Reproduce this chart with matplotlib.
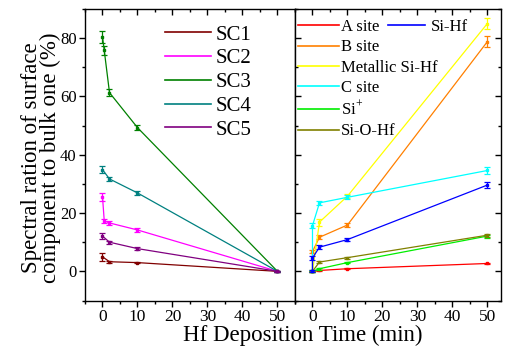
import numpy as np
import matplotlib
matplotlib.use("Agg")
import matplotlib.pyplot as plt
from matplotlib.ticker import MultipleLocator
from matplotlib.lines import Line2D

plt.rcParams['font.family'] = ['Liberation Serif', 'DejaVu Serif']
plt.rcParams['mathtext.fontset'] = 'custom'
plt.rcParams['mathtext.rm'] = 'Liberation Serif'

# ---------------- data ----------------
left_x = [0, 0.5, 2, 10, 50]
sc_labels = ["SC1", "SC2", "SC3", "SC4", "SC5"]
sc1 = [5.0, np.nan, 3.3, 3.0, 0.0]
sc2 = [25.6, 17.3, 16.6, 14.2, 0.0]
sc3 = [80.4, 75.8, 61.3, 49.3, 0.0]
sc4 = [34.9, np.nan, 31.7, 26.9, 0.0]
sc5 = [12.1, np.nan, 10.0, 7.8, 0.0]
sc1_err = [1.3, np.nan, 0.4, 0.3, 0.2]
sc2_err = [1.4, 0.6, 0.6, 0.6, 0.2]
sc3_err = [2.0, 1.6, 1.2, 0.9, 0.2]
sc4_err = [1.2, np.nan, 0.7, 0.6, 0.2]
sc5_err = [0.9, np.nan, 0.5, 0.4, 0.2]
sc_colors = ["#800000", "#FF00FF", "#008000", "#008080", "#800080"]

right_x = [0, 0, 2, 10, 50]
site_labels = ["A site", "B site", "Metallic Si-Hf", "C site", "Si$^{+}$", "Si-O-Hf", "Si-Hf"]
a_site = [0, np.nan, 0.3, 0.9, 2.7]
b_site = [0, 6.8, 11.7, 15.9, 78.8]
metallic = [0, np.nan, 16.9, 25.8, 85.0]
c_site = [0, 15.7, 23.5, 25.4, 34.6]
si_plus = [0, np.nan, 0.9, 3.0, 12.1]
si_o_hf = [0, np.nan, 3.2, 4.7, 12.4]
si_hf = [0, 4.6, 8.3, 10.9, 29.6]
a_err = [0.2, np.nan, 0.2, 0.2, 0.3]
b_err = [0.3, 0.6, 0.6, 0.6, 2.0]
m_err = [0.3, np.nan, 1.2, 0.8, 2.0]
c_err = [0.3, 1.0, 0.6, 0.7, 1.1]
sp_err = [0.2, np.nan, 0.3, 0.3, 0.5]
so_err = [0.2, np.nan, 0.3, 0.3, 0.5]
sh_err = [0.3, 0.7, 0.6, 0.6, 1.1]
site_colors = ["#FF0000", "#FF8000", "#FFFF00", "#00FFFF", "#00EE00", "#808000", "#0000FF"]

fig = plt.figure(figsize=(5.06, 3.47), dpi=100)
axL = fig.add_axes([85/506, 46.5/347, 210/506, 291.5/347])
axR = fig.add_axes([295/506, 46.5/347, 206/506, 291.5/347])


def draw(ax, x, y, e, c, label):
    x = np.asarray(x, float); y = np.asarray(y, float); e = np.asarray(e, float)
    m = ~np.isnan(y)
    ax.plot(x[m], y[m], color=c, lw=0.9, marker='s', ms=1.6)
    ax.errorbar(x[m], y[m], yerr=e[m], fmt='none', ecolor=c, elinewidth=0.9,
                capsize=2.2, capthick=0.9)
    return Line2D([], [], color=c, lw=1.2, label=label)


left_series = [sc1, sc2, sc3, sc4, sc5]
left_errs = [sc1_err, sc2_err, sc3_err, sc4_err, sc5_err]
hL = [draw(axL, left_x, s, e, c, l) for s, e, c, l in zip(left_series, left_errs, sc_colors, sc_labels)]

right_series = [a_site, b_site, metallic, c_site, si_plus, si_o_hf, si_hf]
right_errs = [a_err, b_err, m_err, c_err, sp_err, so_err, sh_err]
hR = [draw(axR, right_x, s, e, c, l) for s, e, c, l in zip(right_series, right_errs, site_colors, site_labels)]

for ax in (axL, axR):
    ax.set_ylim(-10, 90)
    ax.xaxis.set_major_locator(MultipleLocator(10))
    ax.xaxis.set_minor_locator(MultipleLocator(5))
    ax.yaxis.set_major_locator(MultipleLocator(20))
    ax.yaxis.set_minor_locator(MultipleLocator(10))
    for s in ax.spines.values():
        s.set_linewidth(1.0)
    ax.tick_params(axis='x', which='both', top=True, direction='out', labelsize=12.5, pad=2)
    ax.tick_params(axis='x', which='major', length=4, width=1)
    ax.tick_params(axis='x', which='minor', length=2.5, width=1)

axL.set_xlim(-5, 55)
axR.set_xlim(-5, 53.9)

axL.tick_params(axis='y', which='both', left=True, right=False, direction='out', labelsize=12, width=1, pad=2)
axL.tick_params(axis='y', which='major', length=4)
axL.tick_params(axis='y', which='minor', length=2.5)

axR.tick_params(axis='y', which='both', left=True, right=True, direction='in', labelleft=False, width=1)
axR.tick_params(axis='y', which='major', length=4)
axR.tick_params(axis='y', which='minor', length=2.5)

# top ticks point inward
for ax in (axL, axR):
    for t in ax.xaxis.get_major_ticks() + ax.xaxis.get_minor_ticks():
        t.tick2line.set_marker(3)
        t.tick2line.set_markeredgewidth(1)

axL.legend(handles=hL, loc='upper left', bbox_to_anchor=(80/210, 0.945), frameon=False,
           fontsize=15, handlelength=2.2, handletextpad=0.25, labelspacing=0.2,
           borderaxespad=0, borderpad=0)

leg1 = axR.legend(handles=hR[:6], loc='upper left', bbox_to_anchor=(3/206, 0.965), frameon=False,
                  fontsize=12, handlelength=2.45, handletextpad=0.15, labelspacing=0.25,
                  borderaxespad=0, borderpad=0)
axR.add_artist(leg1)
axR.legend(handles=hR[6:], loc='upper left', bbox_to_anchor=(93/206, 0.965), frameon=False,
           fontsize=12, handlelength=2.25, handletextpad=0.3, borderaxespad=0, borderpad=0)

fig.text(41/506, 1 - 158/347, "Spectral ration of surface\ncomponent to bulk one (%)",
         rotation=90, ha='center', va='center', fontsize=16.5, linespacing=0.9)
fig.text(303/506, 1 - 335/347, "Hf Deposition Time (min)", ha='center', va='center', fontsize=16.5)

fig.savefig("out.png", dpi=100)
